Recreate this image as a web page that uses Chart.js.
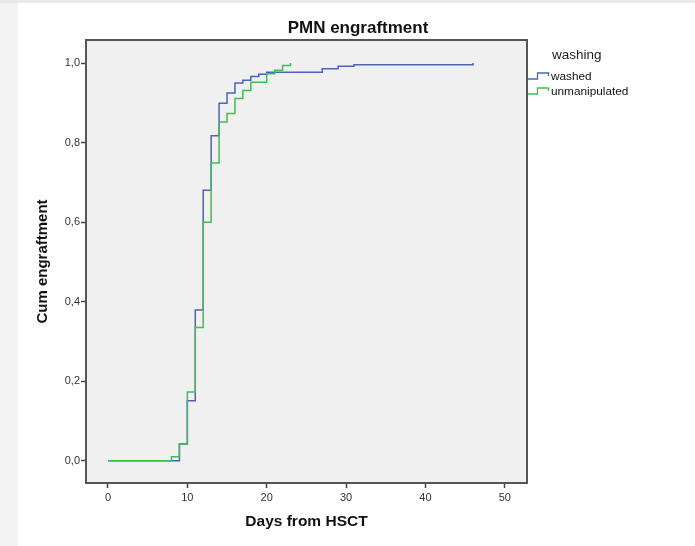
<!DOCTYPE html>
<html>
<head>
<meta charset="utf-8">
<script src="https://cdn.jsdelivr.net/npm/chart.js@4"></script>
<style>
  body { margin: 0; background: #fff; }
  #wrap { width: 695px; height: 546px; }
</style>
</head>
<body>
<div id="wrap"><canvas id="myChart" width="695" height="546"></canvas></div>
<script>
// step points: day where the curve jumps, and the cumulative value after the jump
var washedDays = [0, 9, 10, 11, 12, 13, 14, 15, 16, 17, 18, 19, 20, 27, 29, 31, 46];
var washedCum = [0, 0.042, 0.151, 0.379, 0.68, 0.817, 0.899, 0.925, 0.95, 0.957, 0.966, 0.972, 0.977, 0.986, 0.992, 0.996, 1.0];
var unmanipDays = [0, 8, 9, 10, 11, 12, 13, 14, 15, 16, 17, 18, 20, 21, 22, 23];
var unmanipCum = [0, 0.01, 0.042, 0.173, 0.335, 0.6, 0.749, 0.852, 0.873, 0.911, 0.931, 0.952, 0.973, 0.982, 0.994, 1.0];
var seriesNames = ['washed', 'unmanipulated'];
var xTicks = [0, 10, 20, 30, 40, 50];
var yTicks = [0, 0.2, 0.4, 0.6, 0.8, 1.0];
var yTickLabels = ['0,0', '0,2', '0,4', '0,6', '0,8', '1,0'];

function toPoints(days, vals) {
	return days.map(function (d, i) { return { x: d, y: vals[i] }; });
}

var FONT = '"Liberation Sans", Arial, sans-serif';

var framePlugin = {
	id: 'frame',
	beforeDraw: function (chart) {
		var ctx = chart.ctx, a = chart.chartArea;
		ctx.save();
		ctx.fillStyle = '#ffffff';
		ctx.fillRect(0, 0, chart.width, chart.height);
		ctx.fillStyle = '#f3f3f3';
		ctx.fillRect(0, 0, 18, chart.height);
		ctx.fillStyle = '#e9e9e9';
		ctx.fillRect(0, 0, chart.width, 3);
		ctx.fillStyle = '#f0f0f0';
		ctx.fillRect(a.left, a.top, a.right - a.left, a.bottom - a.top);
		ctx.restore();
	},
	afterDraw: function (chart) {
		var ctx = chart.ctx, a = chart.chartArea;
		ctx.save();
		ctx.strokeStyle = '#555555';
		ctx.lineWidth = 2;
		ctx.strokeRect(a.left, a.top, a.right - a.left, a.bottom - a.top);

		// title
		ctx.fillStyle = '#111';
		ctx.font = 'bold 17px ' + FONT;
		ctx.textAlign = 'center';
		ctx.textBaseline = 'middle';
		ctx.fillText('PMN engraftment', 358, 28);

		// legend
		ctx.textAlign = 'left';
		ctx.font = '13.5px ' + FONT;
		ctx.fillStyle = '#222';
		ctx.fillText('washing', 552, 55);
		ctx.font = '11.8px ' + FONT;
		var rows = [76, 91];
		chart.data.datasets.forEach(function (ds, i) {
			var cy = rows[i];
			ctx.strokeStyle = ds.borderColor;
			ctx.lineWidth = 1.3;
			ctx.beginPath();
			ctx.moveTo(528, cy + 3);
			ctx.lineTo(537.5, cy + 3);
			ctx.lineTo(537.5, cy - 3);
			ctx.lineTo(548.5, cy - 3);
			ctx.lineTo(548.5, cy);
			ctx.stroke();
			ctx.fillStyle = '#111';
			ctx.fillText(ds.label, 551, cy + 0.5);
		});
		ctx.restore();
	}
};

var ctx = document.getElementById('myChart').getContext('2d');
var myChart = new Chart(ctx, {
	type: 'line',
	data: {
		datasets: [{
			label: seriesNames[0],
			data: toPoints(washedDays, washedCum),
			borderColor: '#4c64b8',
			borderWidth: 1.5,
			stepped: true,
			pointRadius: 0,
			fill: false,
			order: 1
		}, {
			label: seriesNames[1],
			data: toPoints(unmanipDays, unmanipCum),
			borderColor: '#3fbf52',
			borderWidth: 1.5,
			stepped: true,
			pointRadius: 0,
			fill: false,
			order: 0
		}]
	},
	options: {
		responsive: false,
		animation: false,
		events: [],
		layout: { padding: { left: 18, top: 40, right: 168, bottom: 0 } },
		plugins: {
			legend: { display: false },
			title: { display: false },
			tooltip: { enabled: false }
		},
		scales: {
			x: {
				type: 'linear',
				min: -2.77,
				max: 52.8,
				afterBuildTicks: function (s) { s.ticks = xTicks.map(function (v) { return { value: v }; }); },
				afterFit: function (s) { s.height = 63; },
				border: { display: false },
				grid: { drawOnChartArea: false, tickLength: 5, tickColor: '#444', tickWidth: 1.5 },
				ticks: {
					padding: 3,
					color: '#333',
					font: { family: FONT, size: 11 },
					callback: function (v) { return String(v); }
				},
				title: {
					display: true,
					text: 'Days from HSCT',
					color: '#111',
					font: { family: FONT, size: 15.5, weight: 'bold' },
					padding: { top: 0, bottom: 15 }
				}
			},
			y: {
				type: 'linear',
				min: -0.056,
				max: 1.058,
				afterBuildTicks: function (s) { s.ticks = yTicks.map(function (v) { return { value: v }; }); },
				afterFit: function (s) { s.width = 68; },
				border: { display: false },
				grid: { drawOnChartArea: false, tickLength: 5, tickColor: '#444', tickWidth: 1.5 },
				ticks: {
					padding: 1,
					color: '#333',
					font: { family: FONT, size: 11 },
					callback: function (v, i) { return yTickLabels[i]; }
				},
				title: {
					display: true,
					text: 'Cum engraftment',
					color: '#111',
					font: { family: FONT, size: 15, weight: 'bold' },
					padding: { top: 16, bottom: 0 }
				}
			}
		}
	},
	plugins: [framePlugin]
});
</script>
</body>
</html>
